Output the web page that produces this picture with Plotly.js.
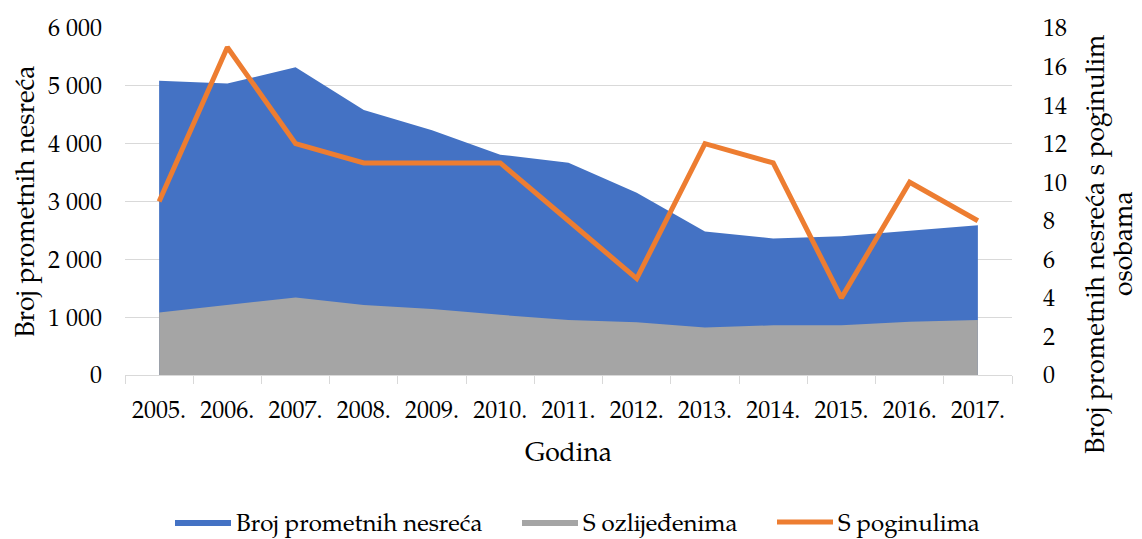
<!DOCTYPE html>
<html>
<head>
<meta charset="utf-8">
<script src="https://cdn.plot.ly/plotly-3.0.1.min.js"></script>
<style>html,body{margin:0;padding:0;background:#fff;}#chart{width:1142px;height:539px;}</style>
</head>
<body>
<div id="chart"></div>
<script>
const years = ["2005.","2006.","2007.","2008.","2009.","2010.","2011.","2012.","2013.","2014.","2015.","2016.","2017."];
const ukupno = [5090, 5040, 5320, 4580, 4230, 3810, 3670, 3150, 2480, 2360, 2400, 2500, 2590];
const ozlijedeni = [1080, 1210, 1340, 1210, 1140, 1040, 950, 910, 820, 860, 860, 920, 950];
const poginuli = [9, 17, 12, 11, 11, 11, 8, 5, 12, 11, 4, 10, 8];

const FONT = "'TeX Gyre Pagella', 'Liberation Serif', serif";
const grid = '#d9d9d9';

const traces = [
  {x: years, y: ukupno, name: 'Broj prometnih nesreća', type: 'scatter', mode: 'lines',
   fill: 'tozeroy', fillcolor: '#4472C4', line: {width: 0, color: '#4472C4'}, yaxis: 'y', hoverinfo: 'y', legend: 'legend'},
  {x: years, y: ozlijedeni, name: 'S ozlijeđenima', type: 'scatter', mode: 'lines',
   fill: 'tozeroy', fillcolor: '#A5A5A5', line: {width: 0, color: '#A5A5A5'}, yaxis: 'y', hoverinfo: 'y', legend: 'legend2'},
  {x: years, y: poginuli, name: 'S poginulima', type: 'scatter', mode: 'lines',
   line: {width: 5, color: '#ED7D31'}, yaxis: 'y2', hoverinfo: 'y', legend: 'legend3'}
];

const legendBase = {orientation: 'h', xanchor: 'left', xref: 'container', y: 0.031, yanchor: 'middle', yref: 'container',
                    font: {family: FONT, size: 24, color: '#000'}, itemwidth: 56, bgcolor: 'rgba(0,0,0,0)'};

const layout = {
  width: 1142, height: 539,
  margin: {l: 125, r: 130, t: 28, b: 164},
  paper_bgcolor: '#fff', plot_bgcolor: '#fff',
  font: {family: FONT, size: 24, color: '#000'},
  separators: ', ',
  showlegend: true,
  legend: Object.assign({}, legendBase, {x: 170 / 1142}),
  legend2: Object.assign({}, legendBase, {x: 517 / 1142}),
  legend3: Object.assign({}, legendBase, {x: 772 / 1142}),
  xaxis: {type: 'category', range: [-0.5, 12.5], tickson: 'boundaries', ticks: 'outside', ticklen: 8,
          tickcolor: grid, showline: true, linecolor: grid, linewidth: 1, showgrid: false, zeroline: false,
          ticklabelstandoff: 13, tickfont: {family: FONT, size: 24},
          title: {text: 'Godina', font: {family: FONT, size: 26.5}, standoff: 18}},
  yaxis: {range: [0, 6000], dtick: 1000, showgrid: true, gridcolor: grid, zeroline: false, showline: false,
          separatethousands: true, tickformat: ',d', ticks: '', ticklabelstandoff: 22, tickfont: {family: FONT, size: 24},
          title: {text: 'Broj prometnih nesreća', font: {family: FONT, size: 26.5}, standoff: 5}},
  yaxis2: {range: [0, 18], dtick: 2, overlaying: 'y', side: 'right', showgrid: false, zeroline: false,
           showline: false, ticks: '', ticklabelstandoff: 30, tickfont: {family: FONT, size: 24}},
  annotations: [
    {text: 'Broj prometnih nesreća s poginulim', xref: 'paper', yref: 'paper',
     x: 1.0, xshift: 86, xanchor: 'center', y: 0.3775, yanchor: 'middle', textangle: -90,
     showarrow: false, font: {family: FONT, size: 26.5, color: '#000'}},
    {text: 'osobama', xref: 'paper', yref: 'paper',
     x: 1.0, xshift: 114, xanchor: 'center', y: 0.3775, yanchor: 'middle', textangle: -90,
     showarrow: false, font: {family: FONT, size: 26.5, color: '#000'}}
  ]
};

Plotly.newPlot('chart', traces, layout, {displayModeBar: false, staticPlot: true});
</script>
</body>
</html>
